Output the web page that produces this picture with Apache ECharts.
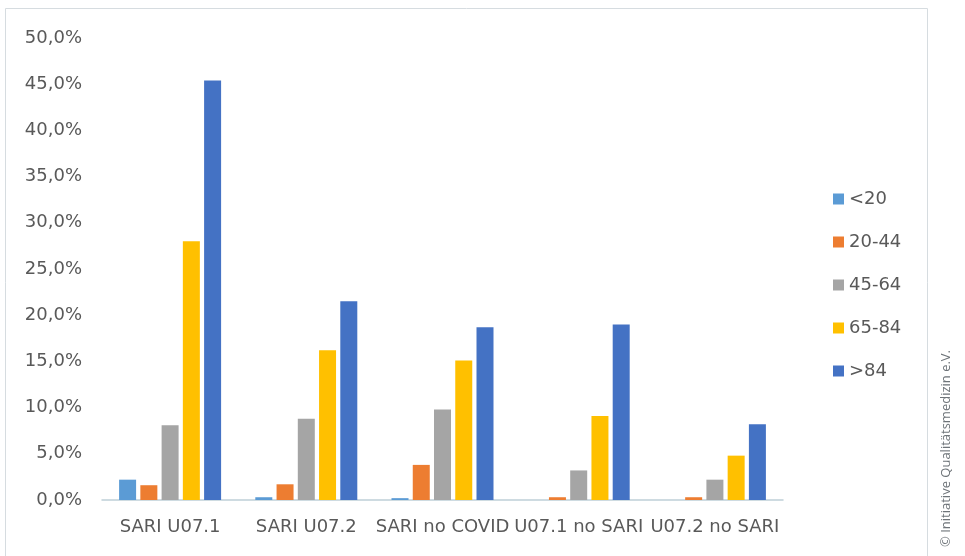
<!DOCTYPE html>
<html>
<head>
<meta charset="utf-8">
<script src="https://cdn.jsdelivr.net/npm/echarts@6/dist/echarts.min.js"></script>
<style>
  html, body { margin: 0; padding: 0; background: #ffffff; }
  #chart { width: 965px; height: 556px; }
</style>
</head>
<body>
<div id="chart"></div>
<script>
// Categories (x axis) and age groups (series)
const categories = ['SARI U07.1', 'SARI U07.2', 'SARI no COVID', 'U07.1 no SARI', 'U07.2 no SARI'];
const ageGroups = ['<20', '20-44', '45-64', '65-84', '>84'];

// Share per age group, in percent
const under20   = [2.2, 0.3, 0.2, 0.0, 0.0];
const age20to44 = [1.6, 1.7, 3.8, 0.3, 0.3];
const age45to64 = [8.1, 8.8, 9.8, 3.2, 2.2];
const age65to84 = [28.0, 16.2, 15.1, 9.1, 4.8];
const over84    = [45.4, 21.5, 18.7, 19.0, 8.2];

const seriesValues = [under20, age20to44, age45to64, age65to84, over84];
const colors = ['#5B9BD5', '#ED7D31', '#A5A5A5', '#FFC000', '#4472C4'];

const chart = echarts.init(document.getElementById('chart'), null, { renderer: 'canvas' });

const fmt = v => v.toFixed(1).replace('.', ',') + '%';
const labelFont = '"DejaVu Sans", sans-serif';

chart.setOption({
  backgroundColor: '#ffffff',
  animation: false,
  textStyle: { fontFamily: labelFont },
  grid: { left: 102, right: 182, top: 38, bottom: 56 },
  legend: {
    orient: 'vertical',
    left: 828,
    top: 185,
    itemWidth: 11,
    itemHeight: 11,
    itemGap: 25,
    icon: 'rect',
    textStyle: { color: '#595959', fontSize: 18, fontFamily: labelFont },
    data: ageGroups
  },
  xAxis: {
    type: 'category',
    data: categories,
    axisLine: { lineStyle: { color: '#BFCFD8', width: 1.5 } },
    axisTick: { show: false },
    axisLabel: { color: '#595959', fontSize: 18, margin: 18, interval: 0, fontFamily: labelFont }
  },
  yAxis: {
    type: 'value',
    min: 0,
    max: 50,
    interval: 5,
    splitLine: { show: false },
    axisLine: { show: false },
    axisTick: { show: false },
    axisLabel: { color: '#595959', fontSize: 18, margin: 20, formatter: fmt, fontFamily: labelFont }
  },
  series: ageGroups.map((name, i) => ({
    name: name,
    type: 'bar',
    data: seriesValues[i],
    barWidth: 17,
    barGap: '25%',
    itemStyle: { color: colors[i] }
  })),
  graphic: [
    {
      type: 'rect',
      silent: true,
      shape: { x: 5.5, y: 8.5, width: 922, height: 560 },
      style: { fill: 'none', stroke: '#D6DCE0', lineWidth: 1 }
    },
    {
      type: 'text',
      silent: true,
      x: 946,
      y: 547,
      rotation: Math.PI / 2,
      style: {
        text: '© Initiative Qualitätsmedizin e.V.',
        fill: '#6E7479',
        fontSize: 13,
        fontFamily: '"Open Sans", sans-serif',
        textAlign: 'left',
        textVerticalAlign: 'middle'
      }
    }
  ]
});
</script>
</body>
</html>
